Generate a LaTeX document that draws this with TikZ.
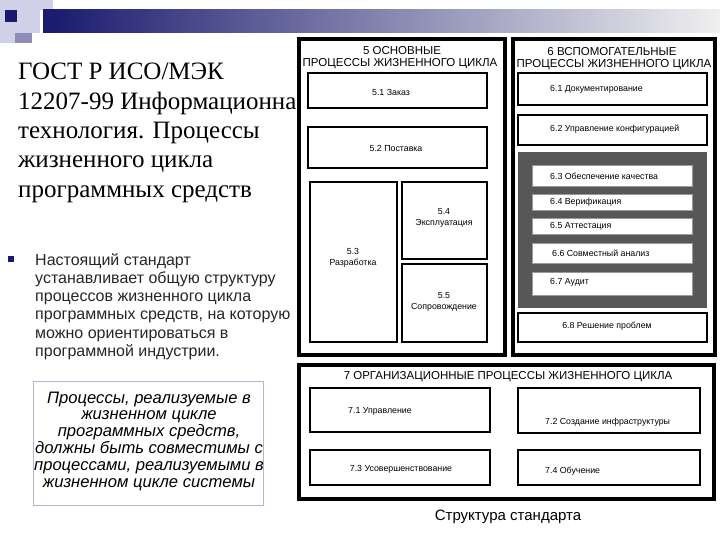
\documentclass[tikz,border=0pt]{standalone}
\usepackage{fontspec}
\setmainfont{Liberation Serif}
\setsansfont{Liberation Sans}
\definecolor{navy}{RGB}{25,25,110}
\definecolor{midblue}{RGB}{140,140,180}
\definecolor{lav}{RGB}{208,208,232}
\definecolor{boxedge}{RGB}{176,184,208}
\begin{document}
\begin{tikzpicture}[x=1pt,y=-1pt,
  outer/.style={draw=black,line width=4pt},
  inbox/.style={draw=black,line width=2.5pt,fill=white},
  wbox/.style={draw=black!40,line width=0.4pt,fill=white},
  lbl/.style={font=\sffamily\fontsize{8.8}{10.5}\selectfont,inner sep=0pt},
  ttl/.style={font=\sffamily\fontsize{11.5}{13}\selectfont,inner sep=0pt},
  head/.style={font=\rmfamily\fontsize{25}{29}\selectfont,anchor=base west,inner sep=0pt},
  body/.style={font=\sffamily\fontsize{16}{18}\selectfont,text=black!85,anchor=base west,inner sep=0pt},
  ital/.style={font=\sffamily\itshape\fontsize{16.6}{17}\selectfont,anchor=base,inner sep=0pt}
]
\useasboundingbox (0,0) rectangle (720,540);
% header decoration
\fill[lav] (0,0) rectangle (40,33);
\fill[lav] (33,0) rectangle (53,10);
\fill[lav] (0,33) rectangle (15,43);
\fill[midblue] (15,33) rectangle (32,43);
\fill[navy] (5,10) rectangle (17,22);
\shade[left color=navy,middle color=midblue,right color=black!6] (43,10) rectangle (720,33);

% left title
\node[head] (h1) at (18,80) {ГОСТ Р ИСО/МЭК};
\node[head] (h2) at (18,109.3) {12207-99 Информационна};
\node[head] (h3) at (18,138.6) {технология. Процессы};
\node[head] (h4) at (18,167.9) {жизненного цикла};
\node[head] (h5) at (18,197.2) {программных средств};

% bullet
\fill[navy] (8,256) rectangle (14,262);
\node[body] (t1) at (35,265) {Настоящий стандарт};
\node[body] (t2) at (35,283.3) {устанавливает общую структуру};
\node[body] (t3) at (35,301.6) {процессов жизненного цикла};
\node[body] (t4) at (35,319.9) {программных средств, на которую};
\node[body] (t5) at (35,338.2) {можно ориентироваться в};
\node[body] (t6) at (35,356.5) {программной индустрии.};

% italic box
\draw[boxedge,line width=0.8pt,fill=white] (33,381) rectangle (263,505);
\node[ital] (i1) at (149,403) {Процессы, реализуемые в};
\node[ital] (i2) at (149,419.8) {жизненном цикле};
\node[ital] (i3) at (149,436.6) {программных средств,};
\node[ital] (i4) at (149,453.4) {должны быть совместимы с};
\node[ital] (i5) at (149,470.2) {процессами, реализуемыми в};
\node[ital] (i6) at (149,487) {жизненном цикле системы};

% box 5
\draw[outer] (299,39) rectangle (505,355);
\node[ttl] (t5a) at (402,51) {5 ОСНОВНЫЕ};
\node[ttl] (t5b) at (400,64) {ПРОЦЕССЫ ЖИЗНЕННОГО ЦИКЛА};
\draw[inbox] (308,73) rectangle (487,108);
\draw[inbox] (308,127) rectangle (487,168);
\draw[inbox] (310,182) rectangle (397,342);
\draw[inbox] (402,182) rectangle (487,259);
\draw[inbox] (402,264) rectangle (487,342);
\node[lbl] (l51) at (391,92) {5.1 Заказ};
\node[lbl] (l52) at (396,148) {5.2 Поставка};
\node[lbl,align=center] (l53) at (353,258) {5.3\\Разработка};
\node[lbl,align=center] (l54) at (444,218) {5.4\\Эксплуатация};
\node[lbl,align=center] (l55) at (444,302) {5.5\\Сопровождение};

% box 6
\draw[outer] (513,39) rectangle (715,355);
\node[ttl] (t6a) at (612,52) {6 ВСПОМОГАТЕЛЬНЫЕ};
\node[ttl] (t6b) at (614,65) {ПРОЦЕССЫ ЖИЗНЕННОГО ЦИКЛА};
\draw[inbox] (518,73) rectangle (707,105);
\draw[inbox] (518,115) rectangle (707,145);
\fill[black!66] (518,152) rectangle (707,308);
\draw[wbox] (532,165) rectangle (692,186);
\draw[wbox] (532,194) rectangle (692,210);
\draw[wbox] (532,218) rectangle (692,234);
\draw[wbox] (532,243) rectangle (692,263);
\draw[wbox] (532,272) rectangle (692,295);
\draw[inbox] (518,313) rectangle (707,342);
\node[lbl,anchor=west] (l61) at (550,89) {6.1 Документирование};
\node[lbl,anchor=west] (l62) at (550,129) {6.2 Управление конфигурацией};
\node[lbl,anchor=west] (l63) at (550,176) {6.3 Обеспечение качества};
\node[lbl,anchor=west] (l64) at (550,202) {6.4 Верификация};
\node[lbl,anchor=west] (l65) at (550,226) {6.5 Аттестация};
\node[lbl,anchor=west] (l66) at (552,253) {6.6 Совместный анализ};
\node[lbl,anchor=west] (l67) at (550,282) {6.7 Аудит};
\node[lbl] (l68) at (607,326) {6.8 Решение проблем};

% box 7
\draw[outer] (299,365) rectangle (714,499);
\node[ttl] (t7) at (508,377) {7 ОРГАНИЗАЦИОННЫЕ ПРОЦЕССЫ ЖИЗНЕННОГО ЦИКЛА};
\draw[inbox] (310,388) rectangle (490,432);
\draw[inbox] (518,388) rectangle (700,433);
\draw[inbox] (310,450) rectangle (490,485);
\draw[inbox] (518,450) rectangle (700,485);
\node[lbl,anchor=west] (l71) at (348,411) {7.1 Управление};
\node[lbl,anchor=west] (l72) at (545,422) {7.2 Создание инфраструктуры};
\node[lbl] (l73) at (401,469) {7.3 Усовершенствование};
\node[lbl,anchor=west] (l74) at (545,471) {7.4 Обучение};

% caption
\node[font=\sffamily\fontsize{15}{17}\selectfont,inner sep=0pt] (cap) at (508,517) {Структура стандарта};
\end{tikzpicture}
\end{document}
